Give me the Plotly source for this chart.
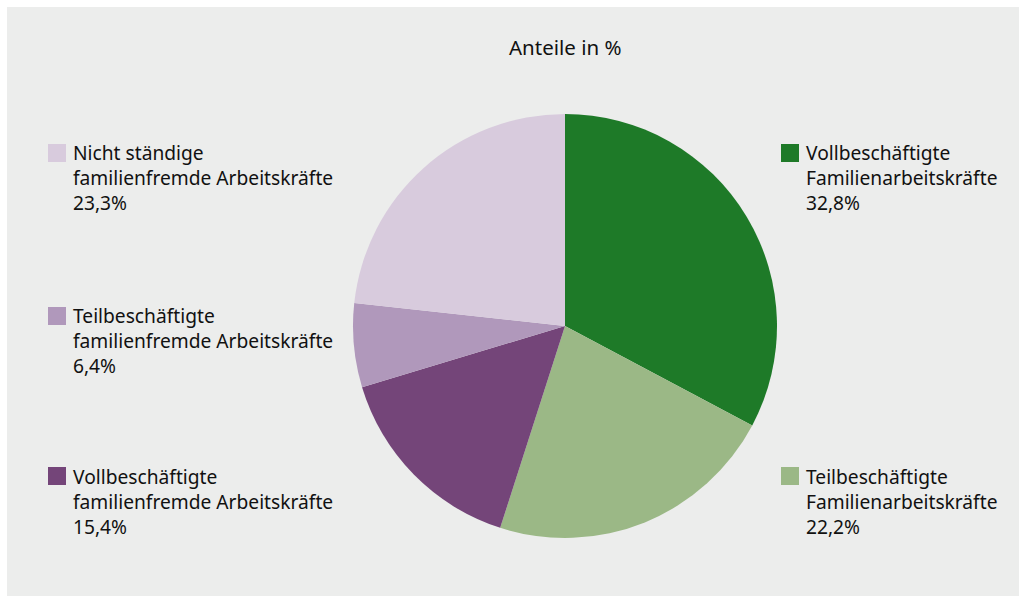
import plotly.graph_objects as go

# ---- data ----
categories = [
    "Vollbeschäftigte Familienarbeitskräfte",
    "Teilbeschäftigte Familienarbeitskräfte",
    "Vollbeschäftigte familienfremde Arbeitskräfte",
    "Teilbeschäftigte familienfremde Arbeitskräfte",
    "Nicht ständige familienfremde Arbeitskräfte",
]
label_lines = [
    ["Vollbeschäftigte", "Familienarbeitskräfte"],
    ["Teilbeschäftigte", "Familienarbeitskräfte"],
    ["Vollbeschäftigte", "familienfremde Arbeitskräfte"],
    ["Teilbeschäftigte", "familienfremde Arbeitskräfte"],
    ["Nicht ständige", "familienfremde Arbeitskräfte"],
]
values = [32.8, 22.2, 15.4, 6.4, 23.3]
colors = ["#1e7a28", "#9bb886", "#744579", "#b098bb", "#d8cbdd"]
title_text = "Anteile in %"

# ---- layout ----
W, H = 1021, 599
BG = "#ecedec"
TXT = "#111111"
FONT = "Noto Sans"
cx, cy, r = 565, 326, 212
# legend block anchors (square left x, first line center y)
legend_pos = [(781, 153), (781, 476), (48, 476), (48, 316), (48, 153)]
line_gap = 25
sq = 18
text_dx = 23

fig = go.Figure(go.Pie(
    labels=categories,
    values=values,
    sort=False,
    direction="clockwise",
    rotation=0,
    marker=dict(colors=colors, line=dict(width=0)),
    textinfo="none",
    hoverinfo="label+percent",
    showlegend=False,
    domain=dict(x=[(cx - r) / W, (cx + r) / W],
                y=[(H - cy - r) / H, (H - cy + r) / H]),
))

shapes = [dict(type="rect", xref="paper", yref="paper",
               x0=7 / W, x1=1019 / W, y0=1 - 596 / H, y1=1 - 7 / H,
               fillcolor=BG, line=dict(width=0), layer="below")]
annotations = [dict(text=title_text, xref="paper", yref="paper",
                    x=cx / W, y=1 - 47 / H, xanchor="center", yanchor="middle",
                    showarrow=False, font=dict(family=FONT, size=20.5, color=TXT))]

for (lx, ly), lines, v, c in zip(legend_pos, label_lines, values, colors):
    shapes.append(dict(type="rect", xref="paper", yref="paper",
                       x0=lx / W, x1=(lx + sq) / W,
                       y0=1 - (ly + sq / 2) / H, y1=1 - (ly - sq / 2) / H,
                       fillcolor=c, line=dict(width=0)))
    all_lines = lines + [f"{v:.1f}".replace(".", ",") + "%"]
    annotations.append(dict(text="<br>".join(all_lines), xref="paper", yref="paper",
                            x=(lx + text_dx) / W, y=1 - (ly + line_gap) / H,
                            xanchor="left", yanchor="middle", align="left",
                            showarrow=False,
                            font=dict(family=FONT, size=19.2, color=TXT)))

fig.update_layout(
    width=W, height=H,
    margin=dict(l=0, r=0, t=0, b=0),
    paper_bgcolor="white",
    plot_bgcolor="white",
    shapes=shapes,
    annotations=annotations,
)

fig.write_html("out.html")
